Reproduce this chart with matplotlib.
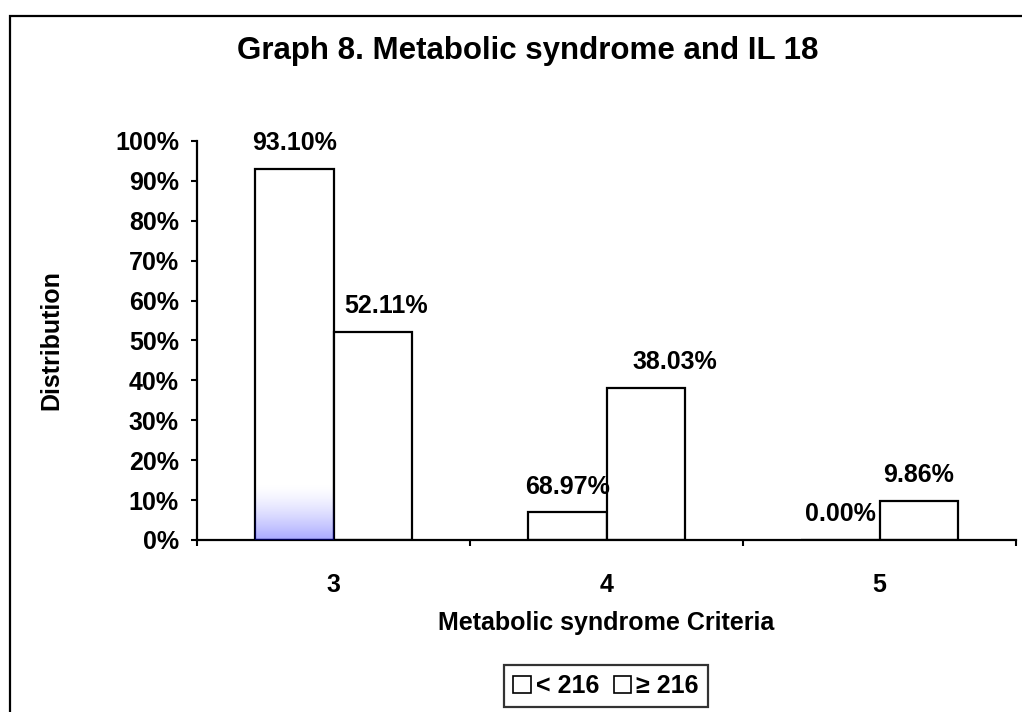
import numpy as np
import matplotlib
matplotlib.use("Agg")
import matplotlib.pyplot as plt
from matplotlib.patches import Rectangle

plt.rcParams["font.family"] = ["Liberation Sans", "DejaVu Sans"]
plt.rcParams["font.weight"] = "bold"

# criteria counts on the x axis
categories = ["3", "4", "5"]
series_names = ["< 216", "\u2265 216"]
# share of patients in each IL 18 group (fraction of 1)
low_il18 = [0.9310, 0.0690, 0.0000]
high_il18 = [0.5211, 0.3803, 0.0986]
# label text as printed on the chart
low_labels = ["93.10%", "68.97%", "0.00%"]
high_labels = ["52.11%", "38.03%", "9.86%"]
y_ticks = [0.0, 0.1, 0.2, 0.3, 0.4, 0.5, 0.6, 0.7, 0.8, 0.9, 1.0]

FS = 18
# a couple of value labels were nudged sideways (points)
low_dx = [0, 0, 0]
high_dx = [10, 21, 0]

fig = plt.figure(figsize=(10.22, 7.12), dpi=100)
ax = fig.add_axes([197 / 1022, 0.2416, 819 / 1022, 0.5604])

# outer chart frame, running off the right and bottom edges
fig.patches.append(Rectangle((10 / 1022, -0.05), 1.2, 1 - 16 / 712 + 0.05,
                             transform=fig.transFigure, fill=False,
                             edgecolor="black", linewidth=1.6))

x = np.arange(len(categories))
width = 0.287
bars_low = ax.bar(x - width / 2, low_il18, width=width, color="white",
                  edgecolor="black", linewidth=1.6, zorder=2, label=series_names[0])
bars_high = ax.bar(x + width / 2, high_il18, width=width, color="white",
                   edgecolor="black", linewidth=1.6, zorder=2, label=series_names[1])

# faint blue wash at the foot of the first bar
t = np.linspace(0, 1, 64)
grad = np.zeros((64, 1, 4))
grad[:, 0, 2] = 1.0
grad[:, 0, 3] = 0.34 * (1 - t) ** 1.5
b0 = bars_low[0]
ax.imshow(grad, extent=[b0.get_x(), b0.get_x() + b0.get_width(), 0, 0.145],
          origin="lower", aspect="auto", zorder=3, interpolation="bilinear")

for bars, texts, dxs in ((bars_low, low_labels, low_dx), (bars_high, high_labels, high_dx)):
    for bar, txt, dx in zip(bars, texts, dxs):
        ax.annotate(txt, (bar.get_x() + bar.get_width() / 2, bar.get_height()),
                    xytext=(dx, 13.5), textcoords="offset points",
                    ha="center", va="baseline", fontsize=FS, fontweight="bold")

ax.set_xlim(-0.5, len(categories) - 0.5)
ax.set_ylim(0, 1.0)
ax.set_yticks(y_ticks)
ax.set_yticklabels([f"{v:.0%}" for v in y_ticks])
ax.set_xticks(x)
ax.set_xticklabels(categories)
ax.set_xticks(np.arange(len(categories) + 1) - 0.5, minor=True)
ax.tick_params(axis="x", which="major", length=0, pad=24, labelsize=FS)
ax.tick_params(axis="x", which="minor", length=4.5, width=1.5, direction="out")
ax.tick_params(axis="y", length=4.5, width=1.5, direction="out", pad=8.5, labelsize=FS)

for side in ("top", "right"):
    ax.spines[side].set_visible(False)
for side in ("left", "bottom"):
    ax.spines[side].set_linewidth(1.6)

ax.set_xlabel("Metabolic syndrome Criteria", fontsize=FS, fontweight="bold")
ax.xaxis.set_label_coords(0.5, -0.208)
ax.xaxis.label.set_va("center")
ax.set_ylabel("Distribution", fontsize=FS, fontweight="bold")
ax.yaxis.set_label_coords(-0.178, 0.5)
ax.yaxis.label.set_va("center")

fig.text(528 / 1022, 1 - 51 / 712, "Graph 8. Metabolic syndrome and IL 18",
         ha="center", va="center", fontsize=22.5, fontweight="bold")

leg = fig.legend(handles=[bars_low, bars_high], loc="center",
                 bbox_to_anchor=(606 / 1022, 1 - 686 / 712), ncol=2,
                 frameon=True, fancybox=False, fontsize=FS, handlelength=0.7,
                 handleheight=0.7, handletextpad=0.2, columnspacing=0.6,
                 borderpad=0.35, borderaxespad=0)
leg.get_frame().set_edgecolor("black")
leg.get_frame().set_linewidth(1.6)
for h in leg.legend_handles:
    h.set_linewidth(1.2)

fig.savefig("out.png", dpi=100)
